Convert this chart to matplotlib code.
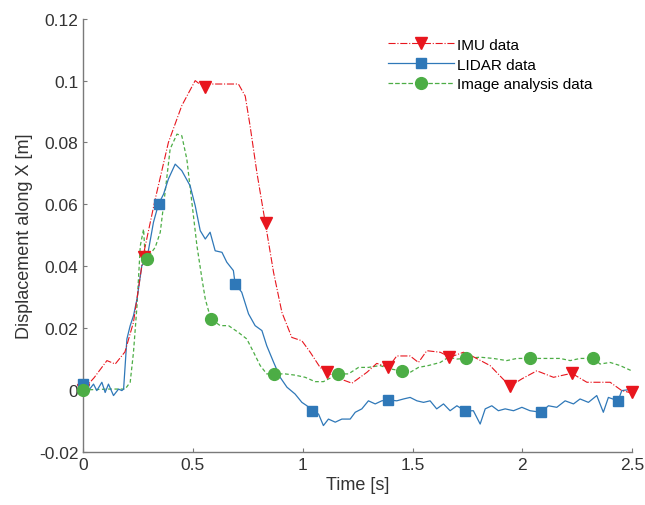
import matplotlib
matplotlib.use("Agg")
import matplotlib.pyplot as plt
from matplotlib.lines import Line2D
from matplotlib.ticker import FuncFormatter

plt.rcParams['font.family'] = ['Liberation Sans', 'DejaVu Sans']

# IMU data (red, dash-dot)
imu_t = [0.0, 0.05, 0.108, 0.146, 0.19, 0.229, 0.275, 0.328, 0.388, 0.449, 0.51, 0.53,
         0.6, 0.707, 0.738, 0.76, 0.791, 0.829, 0.867, 0.905, 0.95, 0.996, 1.034, 1.079,
         1.11, 1.17, 1.224, 1.292, 1.337, 1.39, 1.428, 1.489, 1.527, 1.565, 1.626, 1.671,
         1.732, 1.762, 1.853, 1.944, 1.998, 2.066, 2.142, 2.225, 2.294, 2.4, 2.453, 2.5]
imu_v = [0.0, 0.004, 0.0095, 0.0084, 0.0123, 0.0219, 0.044, 0.0617, 0.080, 0.0919, 0.1, 0.0989,
         0.0989, 0.0989, 0.095, 0.0854, 0.0703, 0.0542, 0.038, 0.0251, 0.017, 0.0159, 0.0122, 0.0073,
         0.0057, 0.0036, 0.0022, 0.0057, 0.0086, 0.0073, 0.011, 0.011, 0.0089, 0.0127, 0.0122, 0.0106,
         0.0122, 0.0113, 0.0079, 0.0012, 0.0036, 0.0062, 0.0041, 0.0054, 0.0025, 0.0025, -0.0002, -0.0010]
imu_mark_t = [0.0, 0.278, 0.556, 0.834, 1.112, 1.39, 1.668, 1.946, 2.224, 2.5]
imu_mark_v = [0.0, 0.043, 0.098, 0.054, 0.0058, 0.0075, 0.0108, 0.0013, 0.0054, -0.0008]

# LIDAR data (blue, solid)
lidar_t = [0.0, 0.024, 0.047, 0.062, 0.085, 0.1, 0.115, 0.138, 0.161, 0.176, 0.184, 0.199,
           0.214, 0.229, 0.245, 0.267, 0.29, 0.32, 0.343, 0.366, 0.388, 0.419, 0.449, 0.487,
           0.51, 0.533, 0.556, 0.578, 0.601, 0.632, 0.654, 0.684, 0.692, 0.722, 0.753, 0.783,
           0.814, 0.836, 0.867, 0.897, 0.928, 0.965, 0.996, 1.019, 1.041, 1.072, 1.094, 1.117,
           1.148, 1.178, 1.216, 1.239, 1.269, 1.299, 1.33, 1.36, 1.39, 1.428, 1.459, 1.489,
           1.52, 1.55, 1.58, 1.61, 1.641, 1.671, 1.702, 1.74, 1.777, 1.808, 1.831, 1.861,
           1.891, 1.922, 1.96, 1.998, 2.035, 2.085, 2.119, 2.157, 2.195, 2.233, 2.263, 2.301,
           2.339, 2.369, 2.392, 2.436, 2.453, 2.506]
lidar_v = [0.0019, -0.0002, 0.0019, -0.0002, 0.0025, -0.0008, 0.0019, -0.0018, 0.0003, -0.0002, 0.0003, 0.0165,
           0.0208, 0.024, 0.0294, 0.0402, 0.0423, 0.0542, 0.0601, 0.0633, 0.0682, 0.073, 0.0709, 0.066,
           0.0596, 0.0515, 0.0488, 0.051, 0.045, 0.0445, 0.0413, 0.0386, 0.0343, 0.0316, 0.0246, 0.0208,
           0.0192, 0.0143, 0.009, 0.0041, 0.0009, -0.0013, -0.004, -0.0051, -0.0067, -0.0078, -0.0115, -0.0094,
           -0.0104, -0.0094, -0.0094, -0.0072, -0.0061, -0.0035, -0.0045, -0.0035, -0.0032, -0.0035, -0.0029, -0.0024,
           -0.0035, -0.004, -0.0035, -0.0061, -0.0045, -0.0067, -0.0051, -0.0068, -0.0067, -0.011, -0.0061, -0.0051,
           -0.0067, -0.0061, -0.0067, -0.0056, -0.0067, -0.0072, -0.0051, -0.0056, -0.0035, -0.0045, -0.0029, -0.004,
           -0.0018, -0.0072, -0.0024, -0.0035, -0.0002, 0.0003]
lidar_mark_t = [0.0, 0.343, 0.692, 1.041, 1.39, 1.74, 2.085, 2.436]
lidar_mark_v = [0.0019, 0.0601, 0.0343, -0.0067, -0.0032, -0.0068, -0.0072, -0.0035]

# Image analysis data (green, dashed)
image_t = [0.0, 0.115, 0.191, 0.214, 0.229, 0.245, 0.26, 0.275, 0.282, 0.29, 0.328, 0.351,
           0.373, 0.396, 0.427, 0.449, 0.472, 0.495, 0.518, 0.541, 0.556, 0.581, 0.624, 0.662,
           0.707, 0.745, 0.776, 0.806, 0.836, 0.871, 0.92, 0.965, 1.011, 1.056, 1.094, 1.162,
           1.208, 1.254, 1.299, 1.352, 1.398, 1.452, 1.489, 1.527, 1.572, 1.626, 1.664, 1.702,
           1.743, 1.808, 1.868, 1.929, 1.975, 2.033, 2.096, 2.172, 2.218, 2.263, 2.324, 2.354,
           2.4, 2.445, 2.498]
image_v = [0.0, 0.0003, 0.0003, 0.0025, 0.0122, 0.0272, 0.0466, 0.052, 0.0434, 0.0425, 0.0461, 0.051,
           0.0639, 0.0779, 0.0827, 0.0822, 0.0746, 0.0606, 0.0466, 0.0359, 0.0294, 0.023, 0.0208, 0.0208,
           0.0186, 0.0165, 0.0122, 0.0079, 0.0052, 0.0052, 0.0052, 0.0048, 0.0041, 0.0027, 0.0027, 0.0052,
           0.0052, 0.0073, 0.0073, 0.0079, 0.0068, 0.0062, 0.0057, 0.0073, 0.0079, 0.0089, 0.0106, 0.01,
           0.0102, 0.0106, 0.0102, 0.0095, 0.0102, 0.0102, 0.0102, 0.0102, 0.0095, 0.0102, 0.0102, 0.0084,
           0.0089, 0.0079, 0.0062]
image_mark_t = [0.0, 0.29, 0.581, 0.871, 1.162, 1.452, 1.743, 2.033, 2.324]
image_mark_v = [0.0, 0.0425, 0.023, 0.0052, 0.0052, 0.0062, 0.0102, 0.0102, 0.0102]

RED = '#e8161e'
BLUE = '#2f78b8'
GREEN = '#4cad45'
TXT = '#333333'

fig = plt.figure(figsize=(6.45, 5.06), dpi=100)
ax = fig.add_axes([0.129, 0.105, 0.851, 0.856])

ax.plot(imu_t, imu_v, color=RED, lw=0.8, ls='-.', zorder=3)
ax.plot(lidar_t, lidar_v, color=BLUE, lw=0.9, ls='-', zorder=2)
ax.plot(image_t, image_v, color=GREEN, lw=0.9, ls='--', dashes=(3, 2), zorder=1)

ax.plot(imu_mark_t, imu_mark_v, ls='none', marker='v', ms=9, color=RED, clip_on=False, zorder=4)
ax.plot(lidar_mark_t, lidar_mark_v, ls='none', marker='s', ms=7, color=BLUE, clip_on=False, zorder=4)
ax.plot(image_mark_t, image_mark_v, ls='none', marker='o', ms=8.5, color=GREEN, clip_on=False, zorder=5)

handles = [
    Line2D([], [], color=RED, lw=0.8, ls='-.', marker='v', ms=9),
    Line2D([], [], color=BLUE, lw=0.9, ls='-', marker='s', ms=7),
    Line2D([], [], color=GREEN, lw=0.9, ls='--', marker='o', ms=8.5),
]
ax.legend(handles, ['IMU data', 'LIDAR data', 'Image analysis data'],
          loc='upper left', bbox_to_anchor=(0.545, 0.97), frameon=False,
          fontsize=11, handlelength=4.3, handletextpad=0.2, labelspacing=0.38,
          borderaxespad=0)

ax.set_xlim(0, 2.5)
ax.set_ylim(-0.02, 0.12)
ax.set_xticks([0, 0.5, 1, 1.5, 2, 2.5])
ax.set_yticks([-0.02, 0, 0.02, 0.04, 0.06, 0.08, 0.1, 0.12])
fmt = FuncFormatter(lambda v, p: '%g' % round(v, 4))
ax.xaxis.set_major_formatter(fmt)
ax.yaxis.set_major_formatter(fmt)

for s in ['top', 'right']:
    ax.spines[s].set_visible(False)
for s in ['left', 'bottom']:
    ax.spines[s].set_color('#7a7a7a')
    ax.spines[s].set_linewidth(1.0)
ax.tick_params(direction='in', length=3, color='#7a7a7a', labelsize=12.5, labelcolor=TXT)

ax.set_xlabel('Time [s]', fontsize=13, color=TXT, labelpad=3)
ax.set_ylabel('Displacement along X [m]', fontsize=13, color=TXT, labelpad=4)

fig.savefig('out.png', dpi=100)
